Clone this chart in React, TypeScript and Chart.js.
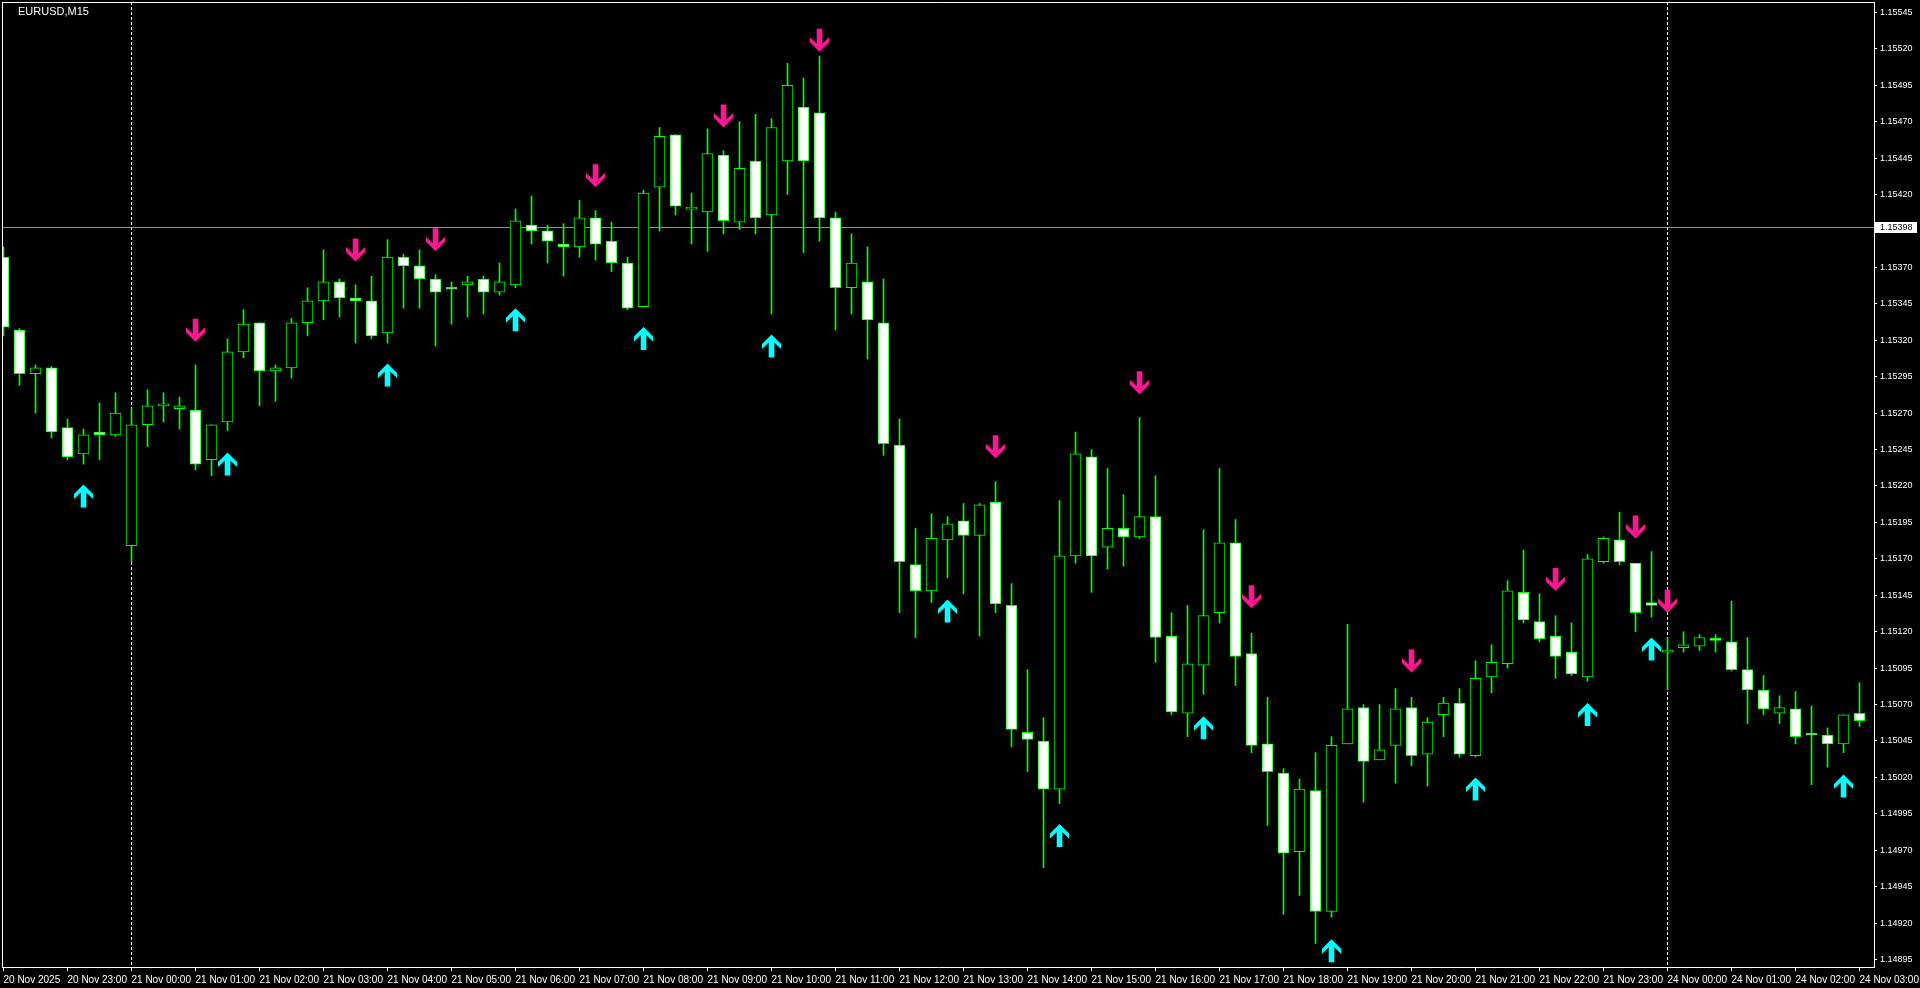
import React, { useEffect, useRef } from "react";
import { Chart, registerables } from "chart.js";

Chart.register(...registerables);

// ---- EURUSD M15 bars (20 Nov 22:00 .. 24 Nov 03:00) ----
const opens = [
  1.15377, 1.15327, 1.15297, 1.15301, 1.1526, 1.15242, 1.15257, 1.15255, 1.15179, 1.15262,
  1.15275, 1.15273, 1.15272, 1.15238, 1.15264, 1.15312, 1.15332, 1.15299, 1.15301, 1.15332,
  1.15347, 1.1536, 1.15349, 1.15347, 1.15325, 1.15377, 1.15371, 1.15362, 1.15356, 1.15358,
  1.15362, 1.15353, 1.15358, 1.15399, 1.15395, 1.15386, 1.15384, 1.15404, 1.15388, 1.15373,
  1.15343, 1.15425, 1.15461, 1.1541, 1.15408, 1.15447, 1.15401, 1.15443, 1.15406, 1.15443,
  1.1548, 1.15476, 1.15404, 1.15356, 1.1536, 1.15332, 1.15248, 1.15166, 1.15148, 1.15183,
  1.15196, 1.15186, 1.15209, 1.15138, 1.15051, 1.15045, 1.15012, 1.15172, 1.1524, 1.15178,
  1.15191, 1.15185, 1.15199, 1.15117, 1.15064, 1.15097, 1.15133, 1.15181, 1.15105, 1.15043,
  1.15023, 1.14969, 1.15011, 1.14928, 1.15043, 1.15068, 1.15032, 1.15042, 1.15068, 1.15036,
  1.15063, 1.15071, 1.15035, 1.15089, 1.15098, 1.15147, 1.15127, 1.15117, 1.15106, 1.15089,
  1.15168, 1.15183, 1.15167, 1.1514, 1.15106, 1.15109, 1.1511, 1.15115, 1.15113, 1.15094,
  1.1508, 1.15064, 1.15067, 1.1505, 1.15049, 1.15043, 1.15064,
];
const highs = [
  1.15384, 1.15328, 1.15303, 1.15302, 1.15266, 1.15259, 1.15277, 1.15284, 1.15273, 1.15286,
  1.15284, 1.15281, 1.15303, 1.15262, 1.15321, 1.15341, 1.15332, 1.15303, 1.15335, 1.15356,
  1.15382, 1.15362, 1.15358, 1.15364, 1.15389, 1.15379, 1.15382, 1.15365, 1.1536, 1.15364,
  1.15364, 1.15373, 1.1541, 1.15419, 1.15399, 1.154, 1.15416, 1.15409, 1.15401, 1.15377,
  1.15423, 1.15466, 1.15461, 1.15421, 1.15465, 1.1545, 1.1547, 1.15475, 1.15472, 1.1551,
  1.155, 1.15515, 1.15408, 1.15393, 1.15384, 1.15362, 1.15266, 1.15191, 1.15201, 1.15199,
  1.15208, 1.15208, 1.15223, 1.15153, 1.15094, 1.15061, 1.1521, 1.15257, 1.15245, 1.15232,
  1.15214, 1.15267, 1.15227, 1.15133, 1.15138, 1.1519, 1.15232, 1.15197, 1.15119, 1.15075,
  1.15026, 1.15019, 1.15037, 1.15048, 1.15125, 1.1507, 1.1507, 1.15081, 1.15075, 1.15061,
  1.15075, 1.15081, 1.151, 1.15111, 1.15155, 1.15176, 1.15146, 1.15131, 1.15126, 1.15173,
  1.15185, 1.15202, 1.15167, 1.15175, 1.15116, 1.1512, 1.15118, 1.15118, 1.15141, 1.15116,
  1.1509, 1.15076, 1.15079, 1.15069, 1.15054, 1.15063, 1.15085,
];
const lows = [
  1.15323, 1.15289, 1.1527, 1.15253, 1.15238, 1.15235, 1.15238, 1.15254, 1.15168, 1.15247,
  1.15264, 1.15259, 1.15231, 1.15227, 1.15258, 1.15308, 1.15275, 1.15278, 1.15294, 1.15323,
  1.15334, 1.15336, 1.15318, 1.15321, 1.15318, 1.15342, 1.15342, 1.15316, 1.15331, 1.15336,
  1.15338, 1.15351, 1.15356, 1.15386, 1.15373, 1.15364, 1.15377, 1.15375, 1.15367, 1.15341,
  1.15343, 1.15395, 1.15406, 1.15386, 1.15381, 1.15393, 1.15396, 1.15393, 1.15338, 1.1542,
  1.1538, 1.15388, 1.15327, 1.15338, 1.15307, 1.15241, 1.15133, 1.15116, 1.1514, 1.15157,
  1.15146, 1.15117, 1.15133, 1.15041, 1.15024, 1.14958, 1.15002, 1.15167, 1.15147, 1.15163,
  1.15165, 1.15184, 1.15099, 1.15063, 1.15048, 1.15077, 1.15126, 1.15083, 1.15037, 1.14987,
  1.14926, 1.14939, 1.14906, 1.14924, 1.15043, 1.15003, 1.15032, 1.15016, 1.15028, 1.15014,
  1.15048, 1.15034, 1.15034, 1.15078, 1.15095, 1.15126, 1.15113, 1.15088, 1.1509, 1.15086,
  1.15167, 1.15166, 1.1512, 1.1513, 1.1508, 1.15106, 1.15107, 1.15106, 1.15093, 1.15057,
  1.15063, 1.15057, 1.15043, 1.15015, 1.15027, 1.15037, 1.15055,
];
const closes = [
  1.15329, 1.15297, 1.15301, 1.15257, 1.1524, 1.15255, 1.15255, 1.1527, 1.15262, 1.15275,
  1.15275, 1.15275, 1.15235, 1.15262, 1.15312, 1.15331, 1.15299, 1.15301, 1.15332, 1.15347,
  1.1536, 1.15349, 1.15347, 1.15323, 1.15377, 1.15371, 1.15362, 1.15353, 1.15355, 1.1536,
  1.15353, 1.1536, 1.15402, 1.15395, 1.15388, 1.15384, 1.15404, 1.15386, 1.15373, 1.15342,
  1.15421, 1.1546, 1.15412, 1.1541, 1.15448, 1.15402, 1.15438, 1.15404, 1.15466, 1.15495,
  1.15443, 1.15404, 1.15356, 1.15373, 1.15334, 1.15249, 1.15168, 1.15148, 1.15184, 1.15194,
  1.15186, 1.15207, 1.15139, 1.15053, 1.15046, 1.15012, 1.15172, 1.15242, 1.15172, 1.15191,
  1.15185, 1.15199, 1.15116, 1.15065, 1.15098, 1.15131, 1.15181, 1.15103, 1.15042, 1.15024,
  1.14968, 1.15012, 1.14928, 1.15042, 1.15067, 1.15031, 1.15039, 1.15067, 1.15035, 1.15058,
  1.15071, 1.15036, 1.15088, 1.15099, 1.15148, 1.15128, 1.15115, 1.15103, 1.15091, 1.1517,
  1.15184, 1.15168, 1.15133, 1.15138, 1.15106, 1.15111, 1.15116, 1.15114, 1.15094, 1.1508,
  1.15067, 1.15068, 1.15048, 1.15049, 1.15043, 1.15063, 1.15059,
];

// Signal arrows: bar index and price of the arrow tip
const upArrowBars = [5, 14, 24, 32, 40, 48, 59, 66, 75, 83, 92, 99, 103, 115];
const upArrowPrices = [
  1.15221, 1.15243, 1.15304, 1.15342, 1.15329, 1.15324, 1.15142, 1.14988, 1.15062, 1.14909,
  1.1502, 1.15071, 1.15116, 1.15022,
];
const downArrowBars = [12, 22, 27, 37, 45, 51, 62, 71, 78, 88, 97, 102, 104];
const downArrowPrices = [
  1.15319, 1.15374, 1.15381, 1.15425, 1.15466, 1.15518, 1.15239, 1.15283, 1.15136, 1.15092,
  1.15148, 1.15184, 1.15133,
];

// Axis labels
const xTickLabels = [
  "20 Nov 2025", "20 Nov 23:00", "21 Nov 00:00", "21 Nov 01:00", "21 Nov 02:00", "21 Nov 03:00",
  "21 Nov 04:00", "21 Nov 05:00", "21 Nov 06:00", "21 Nov 07:00", "21 Nov 08:00", "21 Nov 09:00",
  "21 Nov 10:00", "21 Nov 11:00", "21 Nov 12:00", "21 Nov 13:00", "21 Nov 14:00", "21 Nov 15:00",
  "21 Nov 16:00", "21 Nov 17:00", "21 Nov 18:00", "21 Nov 19:00", "21 Nov 20:00", "21 Nov 21:00",
  "21 Nov 22:00", "21 Nov 23:00", "24 Nov 00:00", "24 Nov 01:00", "24 Nov 02:00", "24 Nov 03:00",
];
const xTickBars = [
  0, 4, 8, 12, 16, 20, 24, 28, 32, 36, 40, 44, 48, 52, 56, 60, 64, 68, 72, 76, 80, 84, 88, 92,
  96, 100, 104, 108, 112, 116,
];
const priceTicks = [
  1.15545, 1.1552, 1.15495, 1.1547, 1.15445, 1.1542, 1.15395, 1.1537, 1.15345, 1.1532, 1.15295,
  1.1527, 1.15245, 1.1522, 1.15195, 1.1517, 1.15145, 1.1512, 1.15095, 1.1507, 1.15045, 1.1502,
  1.14995, 1.1497, 1.14945, 1.1492, 1.14895,
];
const separatorBars = [8, 104];
const bidPrice = 1.15398;
const symbolTitle = "EURUSD,M15";

const Y_MIN = 1.148899;
const Y_MAX = 1.155521;
const X_MIN = -0.09375;
const X_MAX = 116.90625;

const LIME = "#00FF00";
const UP_COLOR = "#00FFFF";
const DOWN_COLOR = "#FF1493";

function drawArrow(ctx: CanvasRenderingContext2D, x: number, y: number, dir: number, color: string) {
  const pts = [
    [0, 0], [9.5, 9.5], [9.5, 14.5], [2.8, 8], [2.8, 23],
    [-2.8, 23], [-2.8, 8], [-9.5, 14.5], [-9.5, 9.5],
  ];
  ctx.beginPath();
  pts.forEach(([px, py], k) => {
    const X = x + px;
    const Y = y + dir * py;
    if (k === 0) ctx.moveTo(X, Y);
    else ctx.lineTo(X, Y);
  });
  ctx.closePath();
  ctx.fillStyle = color;
  ctx.fill();
}

export default function App() {
  const ref = useRef<HTMLCanvasElement>(null);

  useEffect(() => {
    document.body.style.margin = "0";
    document.body.style.background = "#000";
    document.body.style.overflow = "hidden";
    const canvas = ref.current;
    if (!canvas) return;

    const bodies = opens.map((o, i) => ({ x: i, y: [o, closes[i]] }));
    const wicks = lows.map((l, i) => ({ x: i, y: [l, highs[i]] }));
    const bodyColors = opens.map((o, i) => (closes[i] < o ? "#FFFFFF" : "#000000"));

    const overlay = {
      id: "mt4overlay",
      beforeDraw(chart: any) {
        const ctx = chart.ctx;
        ctx.save();
        ctx.fillStyle = "#000";
        ctx.fillRect(0, 0, chart.width, chart.height);
        ctx.restore();
      },
      beforeDatasetsDraw(chart: any) {
        const ctx = chart.ctx;
        const xs = chart.scales.x;
        const ys = chart.scales.y;
        const a = chart.chartArea;
        ctx.save();
        // period separators
        ctx.strokeStyle = "#FFFFFF";
        ctx.lineWidth = 1;
        ctx.setLineDash([3, 2]);
        separatorBars.forEach((b) => {
          const x = Math.floor(xs.getPixelForValue(b)) + 0.5;
          ctx.beginPath();
          ctx.moveTo(x, a.top);
          ctx.lineTo(x, a.bottom);
          ctx.stroke();
        });
        ctx.setLineDash([]);
        // bid line
        const by = Math.round(ys.getPixelForValue(bidPrice)) + 0.5;
        ctx.strokeStyle = "#8A949E";
        ctx.beginPath();
        ctx.moveTo(a.left, by);
        ctx.lineTo(a.right, by);
        ctx.stroke();
        ctx.restore();
      },
      afterDatasetsDraw(chart: any) {
        const ctx = chart.ctx;
        const xs = chart.scales.x;
        const ys = chart.scales.y;
        ctx.save();
        upArrowBars.forEach((b, k) => {
          drawArrow(ctx, xs.getPixelForValue(b), ys.getPixelForValue(upArrowPrices[k]), 1, UP_COLOR);
        });
        downArrowBars.forEach((b, k) => {
          drawArrow(ctx, xs.getPixelForValue(b), ys.getPixelForValue(downArrowPrices[k]), -1, DOWN_COLOR);
        });
        ctx.restore();
      },
      afterDraw(chart: any) {
        const ctx = chart.ctx;
        const a = chart.chartArea;
        const ys = chart.scales.y;
        ctx.save();
        ctx.strokeStyle = "#FFFFFF";
        ctx.lineWidth = 1;
        ctx.beginPath();
        ctx.moveTo(a.left, a.top + 0.5);
        ctx.lineTo(a.right + 1, a.top + 0.5);
        ctx.moveTo(a.left + 0.5, a.top);
        ctx.lineTo(a.left + 0.5, a.bottom + 1);
        ctx.stroke();
        // title
        ctx.fillStyle = "#FFFFFF";
        ctx.font = "11px 'Liberation Sans Narrow', 'Liberation Sans', sans-serif";
        ctx.textBaseline = "alphabetic";
        ctx.textAlign = "left";
        ctx.fillText(symbolTitle, 18, 15);
        // bid label
        const by = Math.round(ys.getPixelForValue(bidPrice));
        ctx.fillStyle = "#FFFFFF";
        ctx.fillRect(a.right + 1, by - 5, 42, 11);
        ctx.fillStyle = "#000000";
        ctx.font = "9px 'Liberation Sans', sans-serif";
        ctx.textBaseline = "middle";
        ctx.fillText(bidPrice.toFixed(5), a.right + 6, by + 0.5);
        ctx.restore();
      },
    };

    const chart = new Chart(canvas, {
      type: "bar",
      data: {
        datasets: [
          {
            label: "body",
            data: bodies as any,
            backgroundColor: bodyColors,
            borderColor: LIME,
            borderWidth: 1,
            borderSkipped: false,
            barThickness: 11,
            minBarLength: 2,
            grouped: false,
            order: 0,
          },
          {
            label: "wick",
            data: wicks as any,
            backgroundColor: LIME,
            borderWidth: 0,
            barThickness: 1,
            grouped: false,
            order: 1,
          },
        ],
      },
      options: {
        animation: false,
        responsive: false,
        devicePixelRatio: 1,
        layout: { padding: { left: 2, top: 2, right: 0, bottom: 0 }, autoPadding: false } as any,
        plugins: {
          legend: { display: false },
          tooltip: { enabled: false },
          title: { display: false },
        },
        scales: {
          x: {
            type: "linear",
            min: X_MIN,
            max: X_MAX,
            offset: false,
            afterBuildTicks: (s: any) => {
              s.ticks = xTickBars.map((v) => ({ value: v }));
            },
            afterFit: (s: any) => {
              s.height = 21;
              s.paddingLeft = 0;
              s.paddingRight = 0;
              s.paddingTop = 0;
              s.paddingBottom = 0;
            },
            ticks: {
              autoSkip: false,
              maxRotation: 0,
              minRotation: 0,
              align: "start",
              color: "#FFFFFF",
              padding: 3,
              font: { family: "'Liberation Sans', sans-serif", size: 10 },
              callback: (_v: any, i: number) => xTickLabels[i],
            },
            grid: { drawOnChartArea: false, drawTicks: true, tickLength: 4, color: "#FFFFFF", offset: false },
            border: { display: true, color: "#FFFFFF", width: 1 },
          } as any,
          y: {
            type: "linear",
            position: "right",
            min: Y_MIN,
            max: Y_MAX,
            afterBuildTicks: (s: any) => {
              s.ticks = priceTicks.map((v) => ({ value: v }));
            },
            afterFit: (s: any) => {
              s.width = 46;
              s.paddingLeft = 0;
              s.paddingRight = 0;
              s.paddingTop = 0;
              s.paddingBottom = 0;
            },
            ticks: {
              autoSkip: false,
              color: "#FFFFFF",
              padding: 3,
              font: { family: "'Liberation Sans', sans-serif", size: 9 },
              callback: (v: any) => Number(v).toFixed(5),
            },
            grid: { drawOnChartArea: false, drawTicks: true, tickLength: 3, color: "#FFFFFF" },
            border: { display: true, color: "#FFFFFF", width: 1 },
          } as any,
        },
      },
      plugins: [overlay],
    });

    return () => chart.destroy();
  }, []);

  return <canvas ref={ref} width={1920} height={988} style={{ display: "block" }} />;
}
